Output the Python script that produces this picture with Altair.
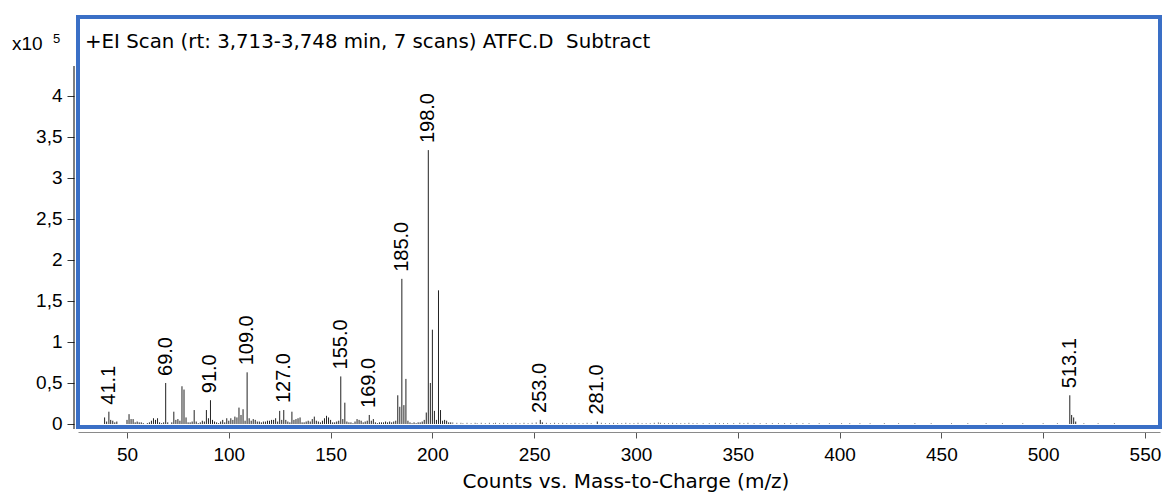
import altair as alt
import pandas as pd

# m/z and abundance (x10^5)
mz = [39, 40, 41.1, 42, 43, 44, 45, 50, 51, 52, 53, 54, 55, 56, 57, 58, 60, 61, 62, 63,
      64, 65, 66, 67, 68, 69, 70, 72, 73, 74, 75, 76, 77, 78, 79, 80, 81, 82, 83, 84,
      85, 86, 87, 88, 89, 90, 91, 92, 93, 94, 95, 96, 97, 98, 99, 100, 101, 102, 103, 104,
      105, 106, 107, 108, 109, 110, 111, 112, 113, 114, 115, 116, 117, 118, 119, 120, 121, 122, 123, 124,
      125, 126, 127, 128, 129, 130, 131, 132, 133, 134, 135, 136, 137, 138, 139, 140, 141, 142, 143, 144,
      145, 146, 147, 148, 149, 150, 151, 152, 153, 154, 155, 156, 157, 158, 159, 160, 161, 162, 163, 164,
      165, 166, 167, 168, 169, 170, 171, 172, 173, 174, 175, 176, 177, 178, 179, 180, 181, 182, 183, 184,
      185, 186, 187, 188, 189, 190, 191, 192, 193, 194, 195, 196, 197, 198, 199, 200, 201, 202, 203, 204,
      205, 206, 207, 208, 209, 253, 254, 281, 513.1, 514, 515, 516]
abundance = [0.08, 0.03, 0.15, 0.05, 0.04, 0.02, 0.03, 0.05, 0.12, 0.06, 0.06, 0.02, 0.03, 0.02, 0.02, 0.01, 0.01, 0.02, 0.04, 0.07,
             0.05, 0.07, 0.02, 0.01, 0.02, 0.50, 0.02, 0.02, 0.15, 0.05, 0.06, 0.04, 0.46, 0.42, 0.08, 0.02, 0.02, 0.03, 0.17, 0.03,
             0.01, 0.02, 0.04, 0.03, 0.17, 0.07, 0.29, 0.05, 0.03, 0.02, 0.01, 0.03, 0.05, 0.02, 0.07, 0.04, 0.07, 0.05, 0.09, 0.08,
             0.20, 0.11, 0.18, 0.04, 0.63, 0.07, 0.04, 0.06, 0.05, 0.03, 0.03, 0.02, 0.03, 0.03, 0.04, 0.04, 0.05, 0.05, 0.07, 0.03,
             0.16, 0.05, 0.17, 0.05, 0.03, 0.02, 0.15, 0.05, 0.06, 0.07, 0.08, 0.02, 0.02, 0.03, 0.04, 0.03, 0.06, 0.09, 0.04, 0.03,
             0.02, 0.04, 0.07, 0.10, 0.08, 0.05, 0.02, 0.02, 0.03, 0.04, 0.58, 0.06, 0.26, 0.03, 0.02, 0.02, 0.01, 0.03, 0.06, 0.05,
             0.04, 0.02, 0.03, 0.04, 0.11, 0.04, 0.06, 0.02, 0.01, 0.02, 0.02, 0.02, 0.03, 0.02, 0.03, 0.02, 0.03, 0.04, 0.35, 0.21,
             1.77, 0.23, 0.55, 0.04, 0.02, 0.01, 0.02, 0.01, 0.02, 0.02, 0.03, 0.05, 0.14, 3.34, 0.50, 1.15, 0.16, 0.05, 1.63, 0.17,
             0.04, 0.05, 0.04, 0.02, 0.02, 0.05, 0.02, 0.03, 0.35, 0.11, 0.08, 0.03]

# low-level background ions beyond 210
noise_mz = [210, 212, 214, 215, 217, 219, 221, 222, 224, 226, 228, 230, 231, 233, 235, 237, 239, 241, 243, 245,
            247, 249, 251, 256, 258, 260, 262, 264, 266, 268, 270, 272, 274, 276, 278, 283, 285, 287, 289, 291,
            293, 295, 297, 299, 301, 303, 305, 307, 309, 311, 312, 314, 316, 318, 320, 322, 324, 326, 328, 330,
            333, 336, 339, 341, 343, 345, 348, 351, 353, 355, 358, 361, 364, 367, 370, 373, 376, 379, 382, 385,
            390, 395, 401, 405, 410, 415, 422, 429, 437, 445, 455, 463, 472, 480, 490, 500, 507, 520, 527, 535]
noise_val = [0.02, 0.015, 0.015, 0.01, 0.015, 0.01, 0.015, 0.01, 0.015, 0.01, 0.015, 0.01, 0.015, 0.01, 0.015, 0.01, 0.01, 0.015, 0.01, 0.015,
             0.01, 0.015, 0.02, 0.015, 0.01, 0.015, 0.01, 0.015, 0.01, 0.01, 0.015, 0.01, 0.01, 0.015, 0.01, 0.015, 0.01, 0.01, 0.015, 0.01,
             0.01, 0.015, 0.01, 0.01, 0.015, 0.01, 0.01, 0.01, 0.015, 0.02, 0.015, 0.01, 0.01, 0.015, 0.01, 0.01, 0.01, 0.015, 0.01, 0.01,
             0.01, 0.01, 0.015, 0.01, 0.01, 0.01, 0.01, 0.015, 0.01, 0.015, 0.01, 0.01, 0.01, 0.01, 0.01, 0.01, 0.01, 0.01, 0.01, 0.01,
             0.01, 0.01, 0.01, 0.01, 0.01, 0.01, 0.01, 0.01, 0.01, 0.01, 0.01, 0.01, 0.01, 0.01, 0.01, 0.01, 0.01, 0.01, 0.01, 0.01]

label_mz = [41.1, 69, 91, 109, 127, 155, 169, 185, 198, 253, 281, 513.1]
label_text = ["41.1", "69.0", "91.0", "109.0", "127.0", "155.0", "169.0", "185.0", "198.0", "253.0", "281.0", "513.1"]

x_ticks = [50, 100, 150, 200, 250, 300, 350, 400, 450, 500, 550]
y_ticks = [0, 0.5, 1, 1.5, 2, 2.5, 3, 3.5, 4]

title_text = "+EI Scan (rt: 3,713-3,748 min, 7 scans) ATFC.D\u00a0\u00a0Subtract"
x_title = "Counts vs. Mass-to-Charge (m/z)"

FONT = "Liberation Sans"
WIDE = "DejaVu Sans"
FS = 19

peaks = pd.DataFrame({"mz": mz, "ab": abundance})
noise = pd.DataFrame({"mz": noise_mz, "ab": noise_val})
lookup = dict(zip(mz, abundance))
labels = pd.DataFrame({"mz": label_mz, "ab": [lookup[m] for m in label_mz], "t": label_text})

xs = alt.Scale(domain=[25.93, 557.4], nice=False, zero=False)
ys = alt.Scale(domain=[-0.0366, 4.963], nice=False, zero=False)

bars = alt.Chart(peaks).mark_rule(color="#222222", strokeWidth=1).encode(
    x=alt.X("mz:Q", scale=xs, axis=alt.Axis(values=x_ticks, title=None, grid=False, offset=5,
                                             tickSize=6, labelPadding=7, domainColor="#8a8a8a",
                                             tickColor="#555555", labelFontSize=FS, labelFont=FONT,
                                             labelColor="#000000", labelFlush=False)),
    y=alt.Y("ab:Q", scale=ys, axis=alt.Axis(values=y_ticks, title=None, grid=False, domain=False,
                                             offset=4, tickSize=7, labelPadding=5, tickColor="#333333",
                                             labelFontSize=FS, labelFont=FONT, labelColor="#000000",
                                             labelExpr="replace(toString(datum.value), '.', ',')")),
    y2=alt.datum(0),
)

noise_bars = alt.Chart(noise).mark_rule(color="#777777", strokeWidth=1).encode(
    x=alt.X("mz:Q", scale=xs), y=alt.Y("ab:Q", scale=ys), y2=alt.datum(0))

lbl = alt.Chart(labels).mark_text(angle=270, align="left", baseline="middle", dx=7,
                                  font=FONT, fontSize=20, color="#000000").encode(
    x=alt.X("mz:Q", scale=xs), y=alt.Y("ab:Q", scale=ys), text="t:N")

yline = alt.Chart(pd.DataFrame({"a": [0]})).mark_rule(color="#000000", strokeWidth=1).encode(
    x=alt.value(-4), y=alt.value(49), y2=alt.value(412))

title = alt.Chart(pd.DataFrame({"t": [title_text]})).mark_text(
    align="left", baseline="alphabetic", font=WIDE, fontSize=19.8, color="#000000").encode(
    x=alt.value(7), y=alt.value(31), text="t:N")

xt = alt.Chart(pd.DataFrame({"t": [x_title]})).mark_text(
    align="center", baseline="alphabetic", font=WIDE, fontSize=20, color="#000000").encode(
    x=alt.value(548), y=alt.value(471), text="t:N")

x10 = alt.Chart(pd.DataFrame({"t": ["x10"]})).mark_text(
    align="left", baseline="alphabetic", font=FONT, fontSize=FS, color="#000000").encode(
    x=alt.value(-66), y=alt.value(33), text="t:N")

exp5 = alt.Chart(pd.DataFrame({"t": ["5"]})).mark_text(
    align="left", baseline="alphabetic", font=FONT, fontSize=13, color="#000000").encode(
    x=alt.value(-25), y=alt.value(26), text="t:N")

chart = alt.layer(noise_bars, bars, lbl, yline, title, xt, x10, exp5).properties(
    width=1082, height=410,
    background="white",
    autosize=alt.AutoSizeParams(type="none"),
    padding={"left": 78, "top": 17, "right": 3, "bottom": 66},
).configure_view(stroke="#3a6fc6", strokeWidth=4)

chart.save("out.html", embed_options={"renderer": "svg", "actions": False})
